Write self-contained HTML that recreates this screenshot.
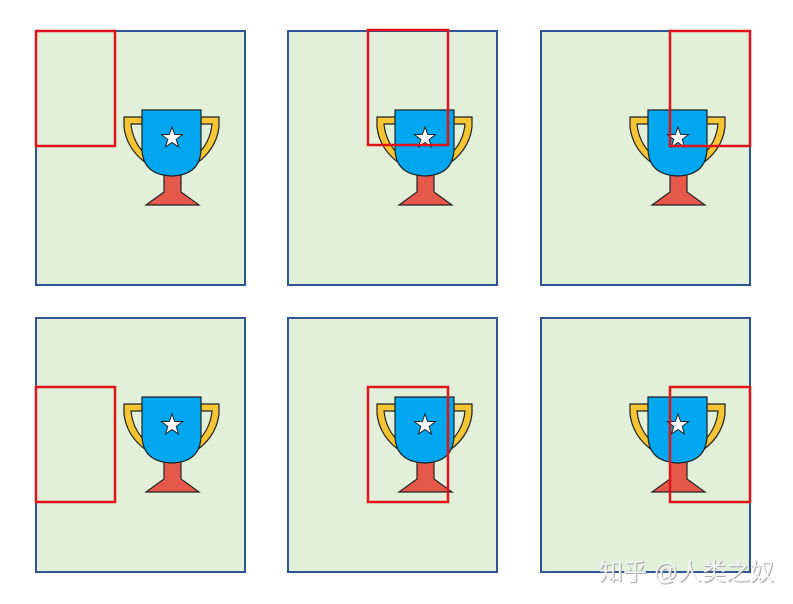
<!DOCTYPE html>
<html><head><meta charset="utf-8"><style>
html,body{margin:0;padding:0;background:#fff;}
svg{display:block;}
</style></head><body>
<svg width="793" height="604" viewBox="0 0 793 604" xmlns="http://www.w3.org/2000/svg">
<defs>
<g id="trophy">
  <path d="M142,117 L124,117 L124,127 Q127,152 152,167 L152,160 Q133,146 131,124 L142,124 Z" fill="#f5c533" stroke="#222" stroke-width="1.2"/>
  <path d="M201,117 L219,117 L219,127 Q216,152 191,167 L191,160 Q210,146 212,124 L201,124 Z" fill="#f5c533" stroke="#222" stroke-width="1.2"/>
  <path d="M164,172 L181,172 L181,192 L199,205 L146,205 L164,192 Z" fill="#e5584a" stroke="#222" stroke-width="1.2"/>
  <path d="M142,110 L201,110 L201,148 Q201,175 172,176 Q142,175 142,148 Z" fill="#00a7ef" stroke="#222" stroke-width="1.2"/>
  <path d="M172,127 L174.6,134.4 L182.5,134.6 L176.2,139.4 L178.5,147 L172,142.5 L165.5,147 L167.8,139.4 L161.5,134.6 L169.4,134.4 Z" fill="#fff" stroke="#222" stroke-width="1"/>
</g>
</defs>
<g>
  <rect x="36" y="31" width="209" height="254" fill="#e2efd9" stroke="#2f5597" stroke-width="2"/>
  <use href="#trophy"/>
  <rect x="36" y="31" width="79" height="115" fill="none" stroke="#e0131a" stroke-width="2.5"/>
</g>
<g>
  <rect x="288" y="31" width="209" height="254" fill="#e2efd9" stroke="#2f5597" stroke-width="2"/>
  <use href="#trophy" x="253"/>
  <rect x="368" y="30" width="80" height="115" fill="none" stroke="#e0131a" stroke-width="2.5"/>
</g>
<g>
  <rect x="541" y="31" width="209" height="254" fill="#e2efd9" stroke="#2f5597" stroke-width="2"/>
  <use href="#trophy" x="506"/>
  <rect x="670" y="31" width="80" height="115" fill="none" stroke="#e0131a" stroke-width="2.5"/>
</g>
<g>
  <rect x="36" y="318" width="209" height="254" fill="#e2efd9" stroke="#2f5597" stroke-width="2"/>
  <use href="#trophy" y="287"/>
  <rect x="36" y="387" width="79" height="115" fill="none" stroke="#e0131a" stroke-width="2.5"/>
</g>
<g>
  <rect x="288" y="318" width="209" height="254" fill="#e2efd9" stroke="#2f5597" stroke-width="2"/>
  <use href="#trophy" x="253" y="287"/>
  <rect x="368" y="387" width="80" height="115" fill="none" stroke="#e0131a" stroke-width="2.5"/>
</g>
<g>
  <rect x="541" y="318" width="209" height="254" fill="#e2efd9" stroke="#2f5597" stroke-width="2"/>
  <use href="#trophy" x="506" y="287"/>
  <rect x="670" y="387" width="80" height="115" fill="none" stroke="#e0131a" stroke-width="2.5"/>
</g>
<text x="600" y="581" font-family="'Liberation Sans','Noto Sans CJK SC',sans-serif" font-size="24" fill="#888" opacity="0.7">知乎 @人类之奴</text>
<text x="599" y="580" font-family="'Liberation Sans','Noto Sans CJK SC',sans-serif" font-size="24" fill="#f4f4f4">知乎 @人类之奴</text>
</svg>
</body></html>
